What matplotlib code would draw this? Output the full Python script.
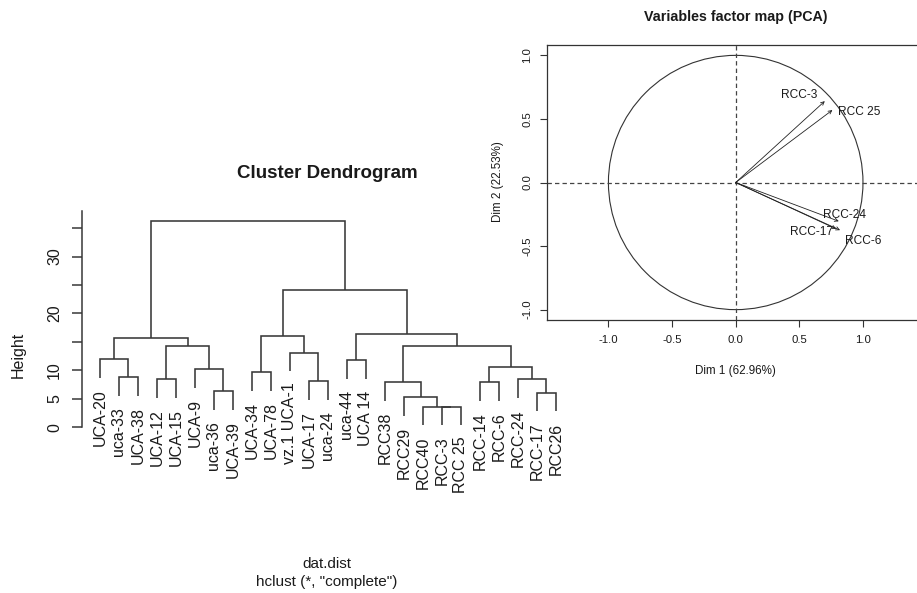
import matplotlib
matplotlib.use("Agg")
import matplotlib.pyplot as plt
from matplotlib.patches import Circle
from matplotlib.transforms import offset_copy

plt.rcParams['font.family'] = ['Liberation Sans', 'DejaVu Sans']

# ---- hierarchical clustering (complete linkage) ----
leaf_labels = ["UCA-20", "uca-33", "UCA-38", "UCA-12", "UCA-15", "UCA-9",
               "uca-36", "UCA-39", "UCA-34", "UCA-78", "vz.1 UCA-1", "UCA-17",
               "uca-24", "uca-44", "UCA 14", "RCC38", "RCC29", "RCC40",
               "RCC-3", "RCC 25", "RCC-14", "RCC-6", "RCC-24", "RCC-17", "RCC26"]
# R-style merge matrix: negative = leaf (1-based), positive = earlier merge step
merge_left = [-19, -18, -17, -24, -7, -16, -21, -12, -4, -23, -2, -9, -6,
              7, -14, -1, -11, 6, 9, 16, 12, 15, 21, 20]
merge_right = [-20, 1, 2, -25, -8, 3, -22, -13, -5, 4, -3, -10, 5,
               10, -15, 11, 8, 14, 13, 19, 17, 18, 22, 23]
merge_height = [3.62, 3.62, 5.33, 6.08, 6.38, 7.96, 7.96, 8.08, 8.49, 8.49,
                8.84, 9.72, 10.19, 10.65, 11.77, 11.95, 13.11, 14.30, 14.29,
                15.64, 16.05, 16.34, 24.13, 36.26]
height_ticks = [0, 5, 10, 15, 20, 25, 30, 35]
height_ticklabels = ["0", "5", "10", "", "20", "", "30", ""]

# ---- PCA variables (correlation circle) ----
var_names = ["RCC-3", "RCC 25", "RCC-24", "RCC-17", "RCC-6"]
dim1 = [0.70, 0.76, 0.81, 0.79, 0.82]
dim2 = [0.64, 0.57, -0.305, -0.365, -0.375]
pca_ticks = [-1.0, -0.5, 0.0, 0.5, 1.0]
pca_ticklabels = ["-1.0", "-0.5", "0.0", "0.5", "1.0"]

W, H = 917, 593
fig = plt.figure(figsize=(W / 100, H / 100), dpi=100)


def axes_px(left, top, right, bottom):
    return fig.add_axes([left / W, 1 - bottom / H, (right - left) / W, (bottom - top) / H])


def ftext(x, y, s, **kw):
    fig.text(x / W, 1 - y / H, s, **kw)


# ================= Dendrogram =================
LC = "#383838"
TC = "#1a1a1a"
ax = axes_px(81.7, 210.5, 574.2, 433.4)
ax.set_facecolor("none")
n = len(leaf_labels)
ax.set_xlim(1 - 0.04 * (n - 1), n + 0.04 * (n - 1))
ax.set_ylim(-1.08, 38.1)

hang = 0.1 * (max(merge_height) - min(merge_height))
node_x, node_y = {}, {}


def child_pos(c, parent_h):
    if c < 0:
        return float(-c), parent_h - hang
    return node_x[c], node_y[c]


leaf_bottom = {}
for i, (a, b, h) in enumerate(zip(merge_left, merge_right, merge_height), start=1):
    xa, ya = child_pos(a, h)
    xb, yb = child_pos(b, h)
    if a < 0:
        leaf_bottom[-a] = ya
    if b < 0:
        leaf_bottom[-b] = yb
    ax.plot([xa, xa, xb, xb], [ya, h, h, yb], color=LC, lw=1.15,
            solid_joinstyle="miter", solid_capstyle="butt")
    node_x[i] = (xa + xb) / 2
    node_y[i] = h

lab_tr = offset_copy(ax.transData, fig=fig, x=0, y=-11.5, units="dots")
for k, lab in enumerate(leaf_labels, start=1):
    ax.text(k, leaf_bottom[k], lab, rotation=90, ha="center", va="top",
            fontsize=11.5, color=TC, transform=lab_tr)

for s in ("top", "right", "bottom"):
    ax.spines[s].set_visible(False)
ax.spines["left"].set_bounds(0, 38.1)
ax.spines["left"].set_color(LC)
ax.spines["left"].set_linewidth(1.1)
ax.set_xticks([])
ax.set_yticks(height_ticks)
ax.set_yticklabels(height_ticklabels)
ax.tick_params(axis="y", length=7.2, width=1.1, color=LC, labelsize=11.5,
               labelcolor=TC, pad=7, labelrotation=90)
for t in ax.get_yticklabels():
    t.set_va("center")

ftext(18.3, 355, "Height", rotation=90, ha="center", va="center", fontsize=11.5, color=TC)
ftext(327, 174, "Cluster Dendrogram", ha="center", va="center", fontsize=13.5,
      fontweight="bold", color=TC)
ftext(327, 564, "dat.dist", ha="center", va="center", fontsize=11, color=TC)
ftext(327, 582, 'hclust (*, "complete")', ha="center", va="center", fontsize=11, color=TC)

# ================= PCA correlation circle =================
PC = "#333333"
bx = axes_px(546.7, 45, 924.7, 320)
bx.set_facecolor("none")
bx.set_xlim(-1.485, 1.485)
bx.set_ylim(-1.0816, 1.0816)
for s in bx.spines.values():
    s.set_color(PC)
    s.set_linewidth(0.9)
bx.add_patch(Circle((0, 0), 1.0, fill=False, lw=0.8, color=PC))
bx.axhline(0, ls=(0, (3.5, 2.5)), lw=0.9, color="#444444")
bx.axvline(0, ls=(0, (3.5, 2.5)), lw=0.9, color="#444444")

# label offsets from each arrow tip, in pixels (x right, y up)
label_offsets = [(-25.7, 6.4), (26.6, -1.7), (6, 6.5), (-25, -2.7), (23, -10.7)]
for name, x, y, (dx, dy) in zip(var_names, dim1, dim2, label_offsets):
    bx.annotate("", xy=(x, y), xytext=(0, 0),
                arrowprops=dict(arrowstyle="->", lw=0.6, color="#222222",
                                shrinkA=0, shrinkB=0, mutation_scale=6))
    bx.annotate(name, xy=(x, y), xytext=(dx, dy), textcoords="offset pixels",
                ha="center", va="center", fontsize=8.6, color=TC)

bx.set_xticks(pca_ticks)
bx.set_xticklabels(pca_ticklabels)
bx.set_yticks(pca_ticks)
bx.set_yticklabels(pca_ticklabels)
bx.tick_params(axis="both", length=5, width=0.8, color=PC, labelsize=8.2,
               labelcolor=TC, pad=5.5)
bx.tick_params(axis="y", labelrotation=90)
for t in bx.get_yticklabels():
    t.set_va("center")

ftext(735.7, 370.7, "Dim 1 (62.96%)", ha="center", va="center", fontsize=8.4, color=TC)
ftext(498, 182, "Dim 2 (22.53%)", rotation=90, ha="center", va="center", fontsize=8.4, color=TC)
ftext(735.5, 17.3, "Variables factor map (PCA)", ha="center", va="center",
      fontsize=10.3, fontweight="bold", color=TC)

fig.savefig("out.png", dpi=100, facecolor="white")
